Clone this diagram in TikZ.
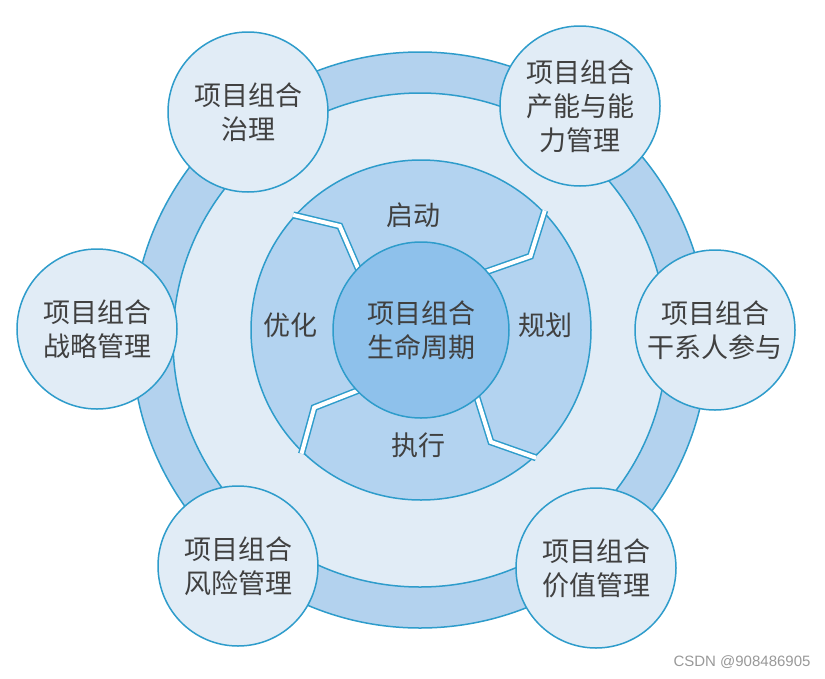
\documentclass[tikz,border=0pt]{standalone}
\usepackage{fontspec}
\newfontfamily\cjk{Noto Sans CJK SC}
\newfontfamily\marcafont{Liberation Sans}
\usetikzlibrary{calc}
\definecolor{AnilloAzul}{HTML}{B3D2EE}
\definecolor{FondoClaro}{HTML}{E1ECF6}
\definecolor{FaseAzul}{HTML}{B3D3F0}
\definecolor{NucleoAzul}{HTML}{8EC1EB}
\definecolor{Borde}{HTML}{2E9CCB}
\definecolor{Texto}{HTML}{404040}
\tikzset{
  satelite/.style = {draw=Borde, circle, fill=FondoClaro, line width=1.5pt,
                     minimum size=160pt, inner sep=0pt, align=center,
                     font=\cjk\fontsize{27}{34}\selectfont, text=Texto},
  nucleo/.style   = {draw=Borde, circle, fill=NucleoAzul, line width=1.5pt,
                     minimum size=176pt, inner sep=0pt, align=center,
                     font=\cjk\fontsize{27}{34}\selectfont, text=Texto},
  etapa/.style    = {inner sep=0pt, font=\cjk\fontsize{27}{34}\selectfont, text=Texto},
  hueco/.style    = {preaction={draw=Borde, line width=7pt}, draw=white, line width=4pt},
  anillo/.style   = {draw=Borde, line width=1.5pt},
  marca/.style    = {font=\marcafont\fontsize{15}{18}\selectfont, text=gray!80},
}
\begin{document}
\begin{tikzpicture}[x=1pt, y=-1pt]
  \useasboundingbox (0,0) rectangle (825,678);
  \fill[white] (0,0) rectangle (825,678);
  % anillo exterior
  \coordinate (ca) at (420,340);
  \filldraw[anillo, fill=AnilloAzul] (ca) circle[radius=288];
  \filldraw[anillo, fill=FondoClaro] (ca) circle[radius=247];
  % ciclo de vida
  \coordinate (cf) at (421,330);
  \filldraw[anillo, fill=FaseAzul] (cf) circle[radius=170];
  \foreach \a in {138,44,-48,226} {
    \draw[hueco] ($(cf)+(\a:80pt)$) -- ($(cf)+(\a-10:132pt)$) -- ($(cf)+(\a:172pt)$);
  }
  \node[nucleo] (nucleo) at (cf) {项目组合\\生命周期};
  \node[etapa] (inicio) at (413,215) {启动};
  \node[etapa] (plan) at (545,325) {规划};
  \node[etapa] (ejec) at (418,445) {执行};
  \node[etapa] (optim) at (290,325) {优化};
  % satelites
  \node[satelite] (gob) at (248,112) {项目组合\\治理};
  \node[satelite] (cap) at (580,106) {项目组合\\产能与能\\力管理};
  \node[satelite] (part) at (715,330) {项目组合\\干系人参与};
  \node[satelite] (estr) at (97,329) {项目组合\\战略管理};
  \node[satelite] (riesgo) at (238,566) {项目组合\\风险管理};
  \node[satelite] (valor) at (596,568) {项目组合\\价值管理};
  \node[marca] (wm) at (742,662) {CSDN @908486905};
\end{tikzpicture}
\end{document}
